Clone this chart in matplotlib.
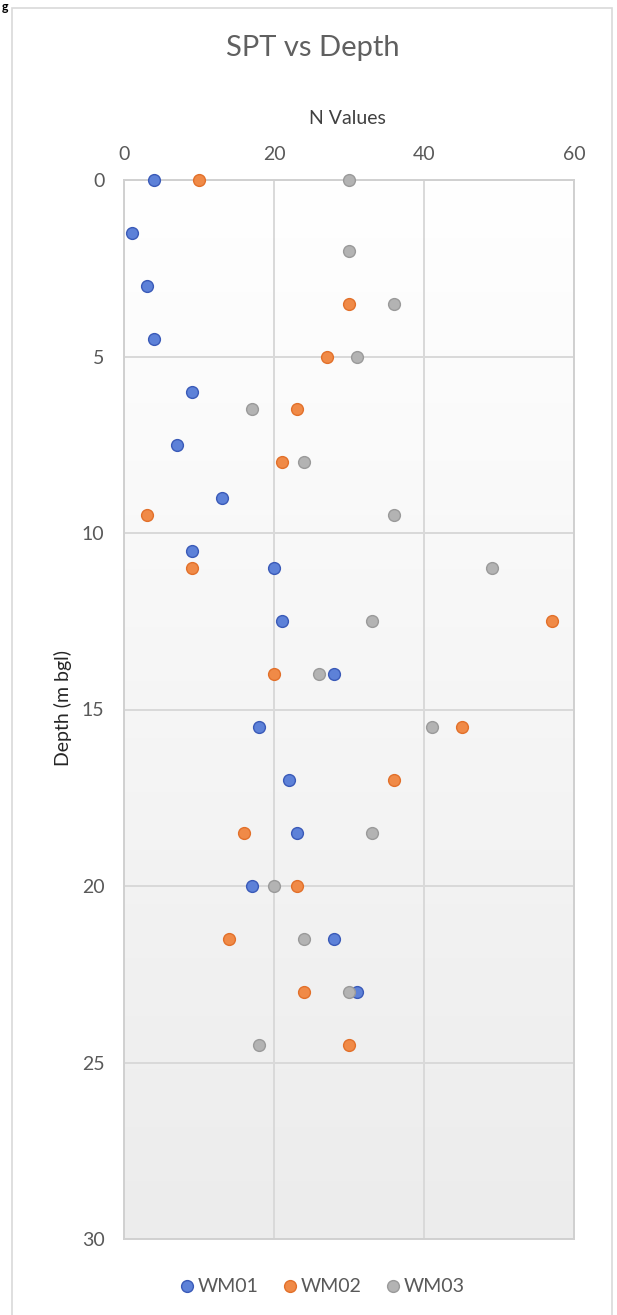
import matplotlib.pyplot as plt
import numpy as np
from matplotlib.colors import LinearSegmentedColormap
from matplotlib.patches import Rectangle

plt.rcParams['font.family'] = ['Lato', 'DejaVu Sans']

# SPT N values against depth (m bgl) for three boreholes
wm01_depth = [0, 1.5, 3, 4.5, 6, 7.5, 9, 10.5, 11, 12.5, 14, 15.5, 17, 18.5, 20, 21.5, 23]
wm01_n = [4, 1, 3, 4, 9, 7, 13, 9, 20, 21, 28, 18, 22, 23, 17, 28, 31]

wm02_depth = [0, 3.5, 5, 6.5, 8, 9.5, 11, 12.5, 14, 15.5, 17, 18.5, 20, 21.5, 23, 24.5]
wm02_n = [10, 30, 27, 23, 21, 3, 9, 57, 20, 45, 36, 16, 23, 14, 24, 30]

wm03_depth = [0, 2, 3.5, 5, 6.5, 8, 9.5, 11, 12.5, 14, 15.5, 18.5, 20, 21.5, 23, 24.5]
wm03_n = [30, 30, 36, 31, 17, 24, 36, 49, 33, 26, 41, 33, 20, 24, 30, 18]

x_ticks = [0, 20, 40, 60]
y_ticks = [0, 5, 10, 15, 20, 25, 30]

W, H = 617, 1315
fig = plt.figure(figsize=(W / 100, H / 100), dpi=100)
fig.patch.set_facecolor('white')

# outer chart border
fig.patches.append(Rectangle((12 / W, -0.01), 600 / W, 1 - 8 / H + 0.01,
                             transform=fig.transFigure, fill=False,
                             edgecolor='#d9d9d9', linewidth=1.2))
fig.text(2 / W, 1 - 1 / H, 'g', fontsize=9, fontweight='bold', color='black',
         ha='left', va='top')

ax = fig.add_axes([124 / W, 1 - 1239 / H, 450 / W, 1059 / H])

# soft white -> grey gradient in the plot area
cmap = LinearSegmentedColormap.from_list('bg', ['#ffffff', '#ececec'])
grad = np.linspace(0, 1, 256).reshape(-1, 1)
ax.imshow(grad, cmap=cmap, aspect='auto', extent=[0, 1, 0, 1],
          transform=ax.transAxes, zorder=0, origin='upper')

ms = 8.5
ax.plot(wm01_n, wm01_depth, 'o', ms=ms, mfc='#5d81d8', mec='#3a5ab8', mew=1.0,
        label='WM01', clip_on=False, zorder=3)
ax.plot(wm02_n, wm02_depth, 'o', ms=ms, mfc='#f08a47', mec='#e2702a', mew=1.0,
        label='WM02', clip_on=False, zorder=3)
ax.plot(wm03_n, wm03_depth, 'o', ms=ms, mfc='#b3b3b3', mec='#9a9a9a', mew=1.0,
        label='WM03', clip_on=False, zorder=3)

ax.set_xlim(0, 60)
ax.set_ylim(30, 0)
ax.set_xticks(x_ticks)
ax.set_yticks(y_ticks)
ax.xaxis.tick_top()
ax.tick_params(axis='both', length=0, labelsize=14, labelcolor='#595959')
ax.tick_params(axis='x', pad=12)
ax.tick_params(axis='y', pad=14)
ax.grid(True, color='#d9d9d9', linewidth=1.4, zorder=1)
ax.set_axisbelow(True)
for s in ax.spines.values():
    s.set_color('#d0d0d0')
    s.set_linewidth(1.4)

fig.text(313 / W, 1 - 48 / H, 'SPT vs Depth', fontsize=21, color='#606060',
         ha='center', va='center')
fig.text(347 / W, 1 - 119 / H, 'N Values', fontsize=14, color='#404040',
         ha='center', va='center')
fig.text(63 / W, 1 - 708 / H, 'Depth (m bgl)', fontsize=14, color='#262626',
         ha='center', va='center', rotation=90)

fig.legend(loc='center', bbox_to_anchor=(321 / W, 1 - 1287 / H), ncol=3,
           frameon=False, fontsize=14, handletextpad=0.05, columnspacing=1.1,
           handlelength=1.0, labelcolor='#595959', markerscale=1.0)

fig.savefig('out.png', dpi=100)
